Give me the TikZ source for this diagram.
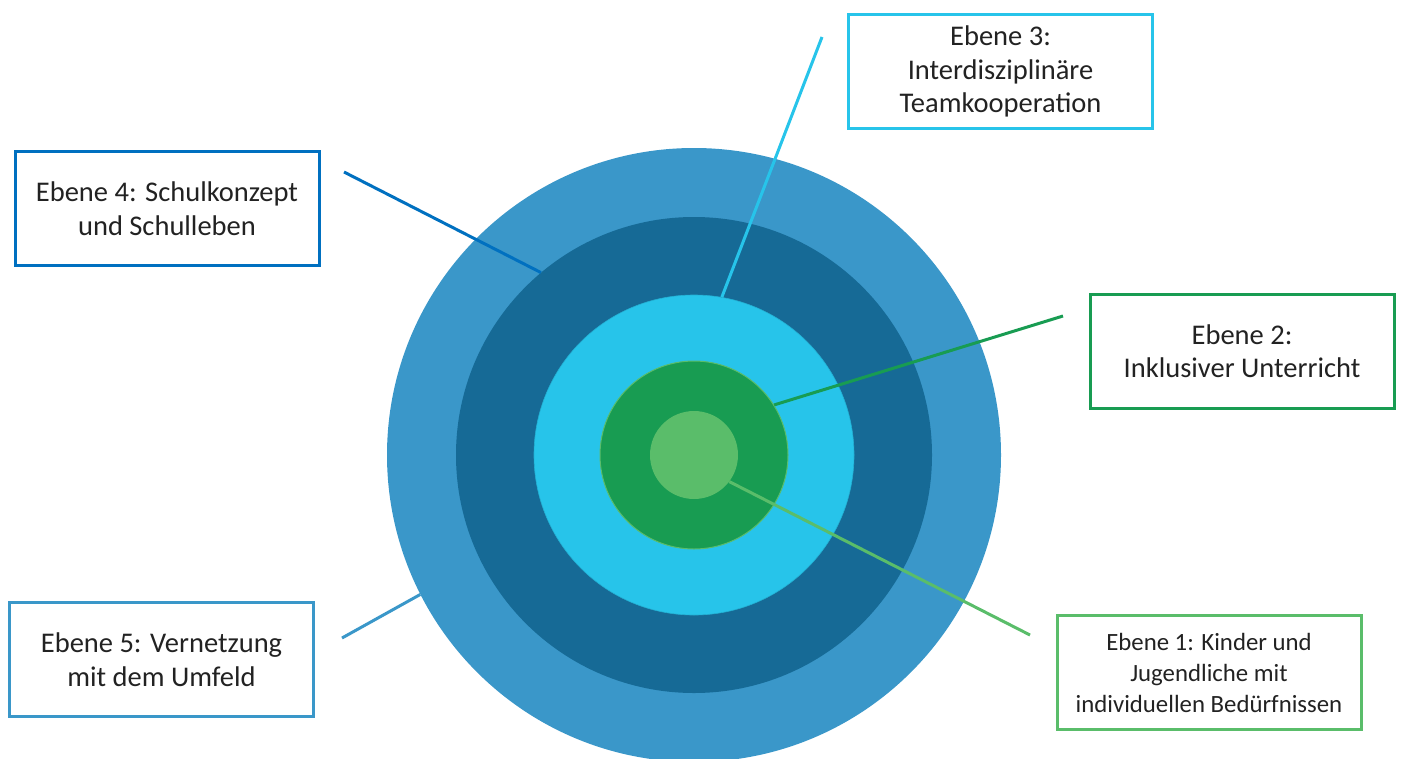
\documentclass[tikz,border=0pt]{standalone}
\usepackage{fontspec}
\setmainfont{Carlito}
\definecolor{cOuter}{HTML}{3A97C9}
\definecolor{cDark}{HTML}{166A96}
\definecolor{cCyan}{HTML}{27C4EA}
\definecolor{cGreen}{HTML}{189C52}
\definecolor{cLight}{HTML}{5ABD6A}
\definecolor{cBlue}{HTML}{0070C0}
\definecolor{cText}{HTML}{222222}
\tikzset{
  ring/.style={circle, inner sep=0pt, draw=none},
  lbox/.style={draw, line width=3pt, minimum width=304pt, minimum height=114pt, inner sep=0pt, align=center, text=cText, font=\fontsize{28.5}{33.5}\selectfont},
  sbox/.style={lbox, font=\fontsize{24.8}{31}\selectfont},
  conn/.style={line width=3pt},
}
\begin{document}
\begin{tikzpicture}[x=1pt,y=-1pt]
\useasboundingbox (0,0) rectangle (1403,758);
\begin{scope}
\clip (0,0) rectangle (1403,758);
\node[ring, fill=cOuter, minimum size=614pt] (r5) at (694,455) {};
\node[ring, fill=cDark, minimum size=476pt] (r4) at (694,455) {};
\node[ring, fill=cCyan, draw=cCyan!90!black, line width=0.6pt, minimum size=320pt] (r3) at (694,455) {};
\node[ring, fill=cGreen, draw=cLight, line width=1pt, minimum size=188pt] (r2) at (694,455) {};
\node[ring, fill=cLight, minimum size=88pt] (r1) at (694,455) {};
\end{scope}

\node[lbox, draw=cCyan] (b3) at (1000.5,71.5) {Ebene 3:\\Interdisziplinäre\\Teamkooperation};
\node[lbox, draw=cBlue] (b4) at (167,208.5) {Ebene 4: Schulkonzept\\und Schulleben};
\node[lbox, draw=cGreen] (b2) at (1242,351) {Ebene 2:\\Inklusiver Unterricht};
\node[lbox, draw=cOuter] (b5) at (161.5,659.5) {Ebene 5: Vernetzung\\mit dem Umfeld};
\node[sbox, draw=cLight] (b1) at (1209,672.5) {Ebene 1: Kinder und\\Jugendliche mit\\individuellen Bedürfnissen};

\coordinate (e3) at (822,37);
\coordinate (e4) at (344,172);
\coordinate (e2) at (1063,316);
\coordinate (e5) at (342,638);
\coordinate (e1) at (1030,635);

\draw[conn, cCyan] (e3) -- (r3.80.7);
\draw[conn, cBlue] (e4) -- (r4.130.1);
\draw[conn, cGreen] (e2) -- (r2.32.2);
\draw[conn, cOuter] (e5) -- (r5.207.4);
\draw[conn, cLight] (e1) -- (r1.-37.9);
\end{tikzpicture}
\end{document}
